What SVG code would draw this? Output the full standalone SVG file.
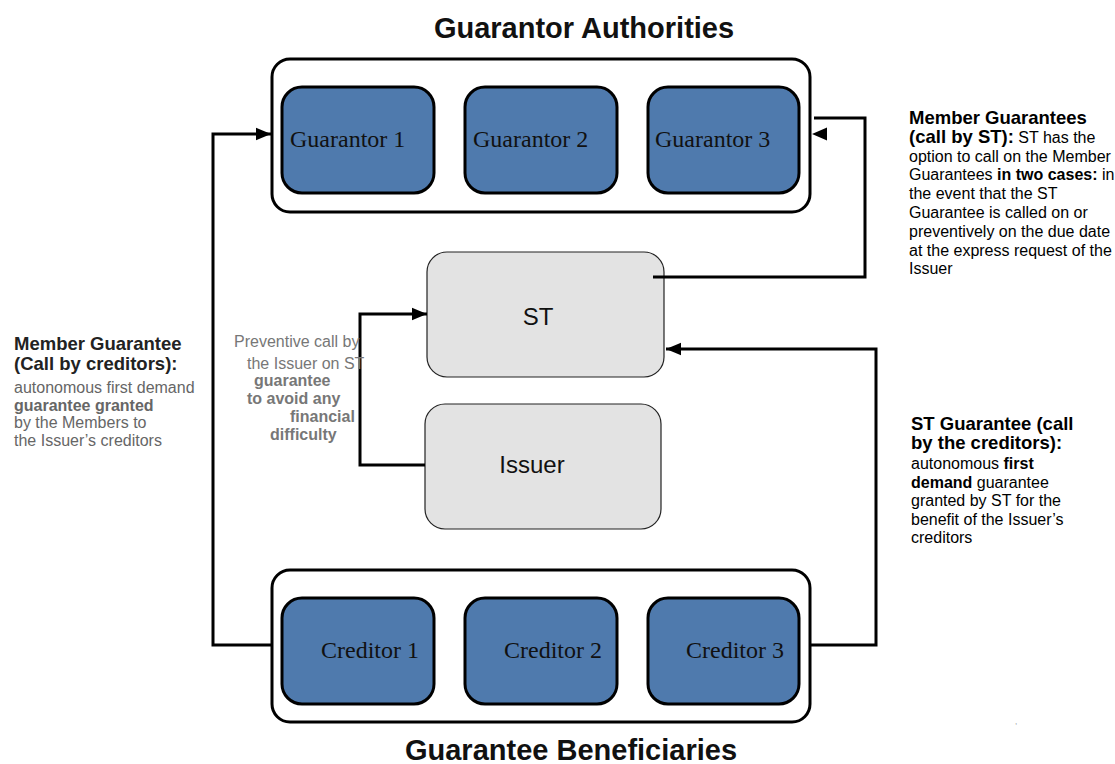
<svg xmlns="http://www.w3.org/2000/svg" width="1115" height="764" viewBox="0 0 1115 764">
<style>
.title{font-family:"Liberation Sans",Arial,sans-serif;font-weight:bold;font-size:29px;fill:#111;text-anchor:middle}
.outer{fill:#fff;stroke:#000;stroke-width:3}
.blue{fill:#4f7aad;stroke:#000;stroke-width:3}
.grey{fill:#e3e3e3;stroke:#222;stroke-width:1.2}
.serif{font-family:"Liberation Serif","Times New Roman",serif;font-size:24px;fill:#111}
.sans{font-family:"Liberation Sans",Arial,sans-serif;font-size:24px;fill:#111;text-anchor:middle}
.conn{fill:none;stroke:#000;stroke-width:3}
.h{font-family:"Liberation Sans",Arial,sans-serif;font-weight:bold;font-size:18.5px}
.b{font-family:"Liberation Sans",Arial,sans-serif;font-size:16px}
.bb{font-weight:bold}
</style>
<defs>
<marker id="arr" markerWidth="5" markerHeight="5" refX="5" refY="2.5" orient="auto" markerUnits="strokeWidth">
<path d="M0,0.4 L5,2.5 L0,4.6 Z" fill="#000"/>
</marker>
</defs>

<text class="title" x="584" y="38">Guarantor Authorities</text>
<text class="title" x="571" y="760">Guarantee Beneficiaries</text>

<g id="guarantor-authorities">
<rect class="outer" x="272" y="59" width="538" height="153" rx="18"/>
</g>
<g id="guarantor1"><rect class="blue" x="282" y="87" width="152" height="106" rx="20"/><text class="serif" x="290" y="147">Guarantor 1</text></g>
<g id="guarantor2"><rect class="blue" x="465" y="87" width="152" height="106" rx="20"/><text class="serif" x="473" y="147">Guarantor 2</text></g>
<g id="guarantor3"><rect class="blue" x="648" y="87" width="151" height="106" rx="20"/><text class="serif" x="655" y="147">Guarantor 3</text></g>

<g id="guarantee-beneficiaries">
<rect class="outer" x="272" y="570" width="538" height="152" rx="18"/>
</g>
<g id="creditor1"><rect class="blue" x="282" y="598" width="152" height="106" rx="20"/><text class="serif" x="321" y="658">Creditor 1</text></g>
<g id="creditor2"><rect class="blue" x="465" y="598" width="152" height="106" rx="20"/><text class="serif" x="504" y="658">Creditor 2</text></g>
<g id="creditor3"><rect class="blue" x="648" y="598" width="151" height="106" rx="20"/><text class="serif" x="686" y="658">Creditor 3</text></g>

<g id="st"><rect class="grey" x="427" y="252" width="237" height="125" rx="20"/><text class="sans" x="538" y="325">ST</text></g>
<g id="issuer"><rect class="grey" x="425" y="404" width="236" height="125" rx="20"/><text class="sans" x="532" y="473">Issuer</text></g>

<g id="connectors">
<polyline class="conn" points="272,645 213,645 213,134 271,134" marker-end="url(#arr)"/>
<polyline class="conn" points="653,277 865,277 865,118 814,118"/>
<path d="M812,134 L827,127.5 L827,140.5 Z" fill="#000"/>
<polyline class="conn" points="425,465 360,465 360,314 427,314" marker-end="url(#arr)"/>
<polyline class="conn" points="810,645 876,645 876,349 666,349" marker-end="url(#arr)"/>
</g>

<g id="label-left">
<text class="h" fill="#222" x="14" y="350">Member Guarantee</text>
<text class="h" fill="#222" x="14" y="370">(Call by creditors):</text>
<text class="b" fill="#666" x="14" y="393">autonomous first demand</text>
<text class="b bb" fill="#666" x="14" y="411">guarantee granted</text>
<text class="b" fill="#666" x="14" y="428">by the Members to</text>
<text class="b" fill="#666" x="14" y="446">the Issuer’s creditors</text>
</g>

<g id="label-middle">
<text class="b" fill="#777" x="234" y="347">Preventive call by</text>
<text class="b" fill="#777" x="247" y="369">the Issuer on ST</text>
<text class="b bb" fill="#777" x="254" y="386">guarantee</text>
<text class="b bb" fill="#777" x="247" y="404">to avoid any</text>
<text class="b bb" fill="#777" x="290" y="422">financial</text>
<text class="b bb" fill="#777" x="270" y="440">difficulty</text>
</g>

<g id="label-top-right">
<text class="h" fill="#000" x="909" y="124">Member Guarantees</text>
<text class="b" fill="#000" x="909" y="143"><tspan class="h">(call by ST):</tspan> ST has the</text>
<text class="b" fill="#000" x="909" y="161.5">option to call on the Member</text>
<text class="b" fill="#000" x="909" y="180">Guarantees <tspan class="bb">in two cases:</tspan> in</text>
<text class="b" fill="#000" x="909" y="199">the event that the ST</text>
<text class="b" fill="#000" x="909" y="218">Guarantee is called on or</text>
<text class="b" fill="#000" x="909" y="237">preventively on the due date</text>
<text class="b" fill="#000" x="909" y="256">at the express request of the</text>
<text class="b" fill="#000" x="909" y="274">Issuer</text>
</g>

<g id="label-bottom-right">
<text class="h" fill="#000" x="911" y="430">ST Guarantee (call</text>
<text class="h" fill="#000" x="911" y="449">by the creditors):</text>
<text class="b" fill="#000" x="911" y="469">autonomous <tspan class="bb">first</tspan></text>
<text class="b" fill="#000" x="911" y="488"><tspan class="bb">demand</tspan> guarantee</text>
<text class="b" fill="#000" x="911" y="506">granted by ST for the</text>
<text class="b" fill="#000" x="911" y="525">benefit of the Issuer’s</text>
<text class="b" fill="#000" x="911" y="543">creditors</text>
</g>

<text x="1015" y="724" font-family="Liberation Sans, Arial, sans-serif" font-size="8" fill="#888">,</text>
</svg>
